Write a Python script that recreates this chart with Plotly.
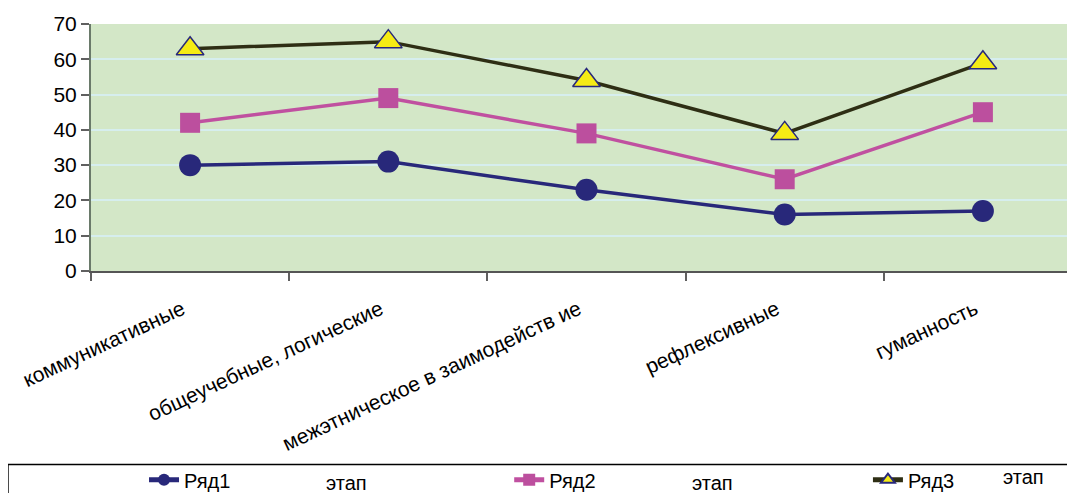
import plotly.graph_objects as go

categories = ["коммуникативные", "общеучебные, логические", "межэтническое в заимодейств ие",
              "рефлексивные", "гуманность"]
series1 = [30, 31, 23, 16, 17]
series2 = [42, 49, 39, 26, 45]
series3 = [63, 65, 54, 39, 59]
names = ["Ряд1", "Ряд2", "Ряд3"]
stage_label = "этап"

FONT = "Liberation Sans, Arial, sans-serif"

fig = go.Figure()
fig.add_trace(go.Scatter(
    x=categories, y=series1, name=names[0], mode="lines+markers",
    line=dict(color="#28287A", width=3.5),
    marker=dict(symbol="circle", size=22, color="#28287A"),
    legend="legend2"))
fig.add_trace(go.Scatter(
    x=categories, y=series2, name=names[1], mode="lines+markers",
    line=dict(color="#C050A0", width=3.5),
    marker=dict(symbol="square", size=20, color="#BC4F9E"),
    legend="legend3"))
fig.add_trace(go.Scatter(
    x=categories, y=series3, name=names[2], mode="lines+markers",
    line=dict(color="#2E2E14", width=3.5),
    marker=dict(symbol="triangle-up", size=24, color="#F5EB14",
                line=dict(color="#28287A", width=1.5)),
    legend="legend4"))

legend_common = dict(orientation="h", yanchor="middle", xanchor="left",
                     font=dict(family=FONT, size=20, color="#000000"),
                     bgcolor="rgba(0,0,0,0)", itemwidth=30, itemsizing="constant")

fig.update_layout(
    width=1075, height=493,
    margin=dict(l=83, r=1, t=16, b=228),
    paper_bgcolor="white",
    plot_bgcolor="#D3E7C7",
    font=dict(family=FONT, color="#000000"),
    showlegend=True,
    legend=dict(visible=False),
    legend2=dict(x=0.0535, y=-0.845, **legend_common),
    legend3=dict(x=0.422, y=-0.845, **legend_common),
    legend4=dict(x=0.784, y=-0.845, **legend_common),
    xaxis=dict(
        type="category", range=[-0.5, 4.5],
        tickson="boundaries", ticks="outside", ticklen=8, tickcolor="#606060", tickwidth=1.5,
        showline=True, linecolor="#555555", linewidth=2,
        showgrid=False, tickangle=-25, ticklabelstandoff=16, ticklabelshift=-8,
        tickfont=dict(family=FONT, size=21, color="#000000"),
        fixedrange=True),
    yaxis=dict(
        range=[0, 70], dtick=10, ticks="outside", ticklen=8, tickcolor="#606060", tickwidth=1.5,
        showline=True, linecolor="#6A7A6A", linewidth=2,
        showgrid=True, gridcolor="#D6EEEE", gridwidth=1.5,
        zeroline=False,
        tickfont=dict(family=FONT, size=21, color="#000000"),
        fixedrange=True),
    shapes=[dict(type="rect", xref="paper", yref="paper",
                 x0=-0.0838, x1=1.02, y0=-0.783, y1=-1.1,
                 line=dict(color="#000000", width=1.5), fillcolor="rgba(0,0,0,0)",
                 layer="below")],
    annotations=[
        dict(text=stage_label, xref="paper", yref="paper", x=0.258, y=-0.859,
             xanchor="center", yanchor="middle",
             showarrow=False, font=dict(family=FONT, size=20)),
        dict(text=stage_label, xref="paper", yref="paper", x=0.627, y=-0.859,
             xanchor="center", yanchor="middle",
             showarrow=False, font=dict(family=FONT, size=20)),
        dict(text=stage_label, xref="paper", yref="paper", x=0.9405, y=-0.835,
             xanchor="center", yanchor="middle",
             showarrow=False, font=dict(family=FONT, size=20)),
    ],
)

fig.write_html("out.html")
